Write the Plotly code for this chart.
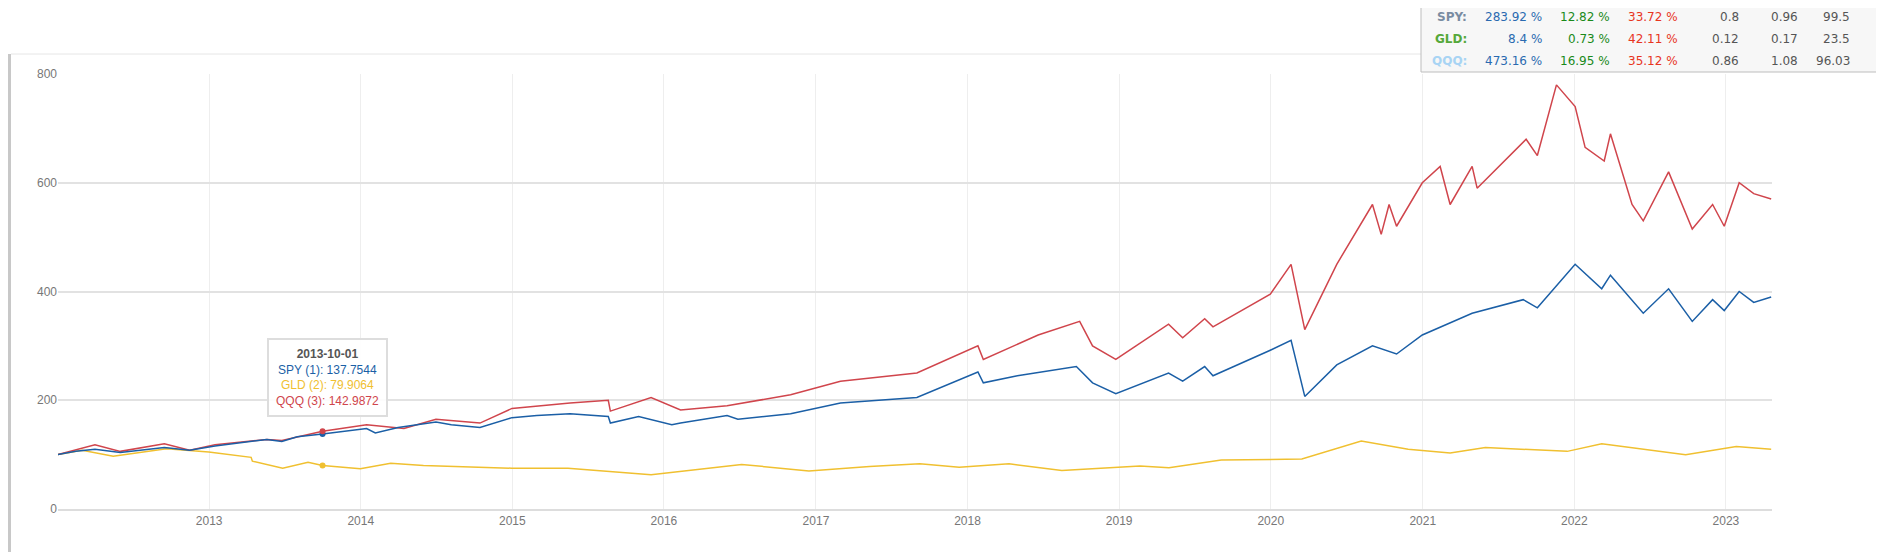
import plotly.graph_objects as go

spy_dates = ["2012-01-03","2012-02-15","2012-04-01","2012-06-01","2012-09-15","2012-11-15","2013-01-15","2013-03-15","2013-05-20","2013-06-25","2013-08-01","2013-10-01","2014-01-15","2014-02-05","2014-04-01","2014-07-01","2014-08-07","2014-10-15","2014-12-31","2015-03-01","2015-05-20","2015-08-20","2015-08-25","2015-11-01","2016-01-20","2016-02-10","2016-06-01","2016-06-27","2016-11-01","2017-03-01","2017-09-01","2018-01-26","2018-02-08","2018-05-01","2018-09-20","2018-10-29","2018-12-24","2019-04-30","2019-06-03","2019-07-26","2019-08-15","2019-12-31","2020-02-19","2020-03-23","2020-06-08","2020-09-02","2020-10-30","2020-12-31","2021-04-30","2021-08-31","2021-10-04","2022-01-03","2022-03-08","2022-03-29","2022-06-16","2022-08-16","2022-10-12","2022-11-30","2022-12-28","2023-02-02","2023-03-09","2023-04-20"]
spy_vals  = [100,106,110,104,113,108,116,122,128,124,133,137.75,148,140,150,160,155,150,168,172,175,170,158,170,155,158,172,165,175,195,205,252,232,245,262,232,212,250,235,262,245,292,310,207,265,300,285,320,360,385,370,450,405,430,360,405,345,385,365,400,380,390]

qqq_dates = ["2012-01-03","2012-04-01","2012-06-01","2012-09-15","2012-11-15","2013-01-15","2013-05-20","2013-06-25","2013-10-01","2014-01-15","2014-04-15","2014-07-01","2014-10-15","2014-12-31","2015-05-20","2015-08-20","2015-08-25","2015-12-01","2016-02-10","2016-06-01","2016-11-01","2017-03-01","2017-09-01","2018-01-26","2018-02-08","2018-06-20","2018-09-28","2018-10-29","2018-12-24","2019-04-30","2019-06-03","2019-07-26","2019-08-15","2019-12-31","2020-02-19","2020-03-23","2020-06-08","2020-09-02","2020-09-23","2020-10-12","2020-10-30","2020-12-31","2021-02-12","2021-03-08","2021-04-30","2021-05-12","2021-09-07","2021-10-04","2021-11-19","2022-01-03","2022-01-27","2022-03-14","2022-03-29","2022-05-20","2022-06-16","2022-08-16","2022-10-12","2022-11-30","2022-12-28","2023-02-02","2023-03-09","2023-04-20"]
qqq_vals  = [100,118,106,120,108,118,128,126,142.99,155,148,165,158,185,195,200,180,205,182,190,210,235,250,300,275,320,345,300,275,340,315,350,335,395,450,330,450,560,505,560,520,600,630,560,630,590,680,650,780,740,665,640,690,560,530,620,515,560,520,600,580,570]

gld_dates = ["2012-01-03","2012-03-01","2012-05-15","2012-09-20","2012-12-31","2013-04-12","2013-04-15","2013-06-27","2013-08-27","2013-10-01","2013-12-31","2014-03-14","2014-06-01","2014-12-31","2015-05-15","2015-12-01","2016-07-06","2016-12-15","2017-05-10","2017-09-08","2017-12-12","2018-04-11","2018-08-16","2019-02-20","2019-05-01","2019-09-04","2020-03-16","2020-08-06","2020-11-27","2021-03-08","2021-06-01","2021-12-15","2022-03-08","2022-09-26","2023-01-26","2023-04-20"]
gld_vals  = [100,108,97,111,105,95,88,75,86,79.91,74,84,80,75,75,63,82,70,78,83,77,83,71,79,76,90,92,125,110,103,113,106,120,100,115,110]

xtick_vals = ["2013-01-01","2014-01-01","2015-01-01","2016-01-01","2017-01-01","2018-01-01","2019-01-01","2020-01-01","2021-01-01","2022-01-01","2023-01-01"]
xtick_text = ["2013","2014","2015","2016","2017","2018","2019","2020","2021","2022","2023"]

tbl_labels = ["SPY:","GLD:","QQQ:"]
tbl_total = ["283.92 %","8.4 %","473.16 %"]
tbl_cagr = ["12.82 %","0.73 %","16.95 %"]
tbl_dd = ["33.72 %","42.11 %","35.12 %"]
tbl_c4 = ["0.8","0.12","0.86"]
tbl_c5 = ["0.96","0.17","1.08"]
tbl_c6 = ["99.5","23.5","96.03"]

OFF = 8
W, H = 1868, 544
L, T = 58 - OFF, 74 - OFF
R = W - (1772 - OFF)
B = H - (509 - OFF)
pw, ph = W - L - R, H - T - B
def px(x): return (x - OFF - L) / pw
def py(y): return 1 - (y - OFF - T) / ph

C_SPY, C_GLD, C_QQQ = "#1b5fa6", "#f0c030", "#d0454c"
fig = go.Figure()
fig.add_trace(go.Scatter(x=gld_dates, y=gld_vals, mode="lines", line=dict(color=C_GLD, width=1.5), name="GLD"))
fig.add_trace(go.Scatter(x=qqq_dates, y=qqq_vals, mode="lines", line=dict(color=C_QQQ, width=1.5), name="QQQ"))
fig.add_trace(go.Scatter(x=spy_dates, y=spy_vals, mode="lines", line=dict(color=C_SPY, width=1.5), name="SPY"))
fig.add_trace(go.Scatter(x=["2013-10-01"]*3, y=[spy_vals[11], gld_vals[9], qqq_vals[8]], mode="markers",
                         marker=dict(color=[C_SPY, C_GLD, C_QQQ], size=6)))

shapes = [
    dict(type="rect", xref="paper", yref="paper", x0=px(8), x1=px(11), y0=py(553), y1=py(54), fillcolor="#c8c8c8", line=dict(width=0), layer="above"),
    dict(type="line", xref="paper", yref="paper", x0=px(11), x1=px(1421), y0=py(54), y1=py(54), line=dict(color="#e6e6e6", width=1)),
    dict(type="rect", xref="paper", yref="paper", x0=px(1421), x1=px(1886), y0=py(72), y1=py(-2), fillcolor="#f7f7f7", line=dict(color="#bdbdbd", width=1), layer="above"),
]
ann = []
rows_y = [17, 39, 61]
lab_cols = ["#7a8ca2", "#55a83a", "#a8d4f4"]
cols = [(1469, tbl_labels, None), (1544, tbl_total, "#2a6ab0"), (1612, tbl_cagr, "#1a8a1a"),
        (1680, tbl_dd, "#e8351e"), (1741, tbl_c4, "#555"), (1800, tbl_c5, "#555"), (1852, tbl_c6, "#555")]
for ci, (xr, vals, col) in enumerate(cols):
    for ri, v in enumerate(vals):
        c = lab_cols[ri] if col is None else col
        txt = f"<b>{v}</b>" if col is None else v
        ann.append(dict(xref="paper", yref="paper", x=px(xr), y=py(rows_y[ri]), xanchor="right", yanchor="middle",
                        text=txt, showarrow=False, font=dict(family="Verdana, DejaVu Sans", size=12, color=c)))
tip = ("<b>2013-10-01</b><br>" + f"<span style='color:{C_SPY}'>SPY (1): 137.7544</span><br>"
       + f"<span style='color:{C_GLD}'>GLD (2): 79.9064</span><br>"
       + f"<span style='color:{C_QQQ}'>QQQ (3): 142.9872</span>")
ann.append(dict(xref="paper", yref="paper", x=px(327), y=py(377), xanchor="center", yanchor="middle", text=tip,
                showarrow=False, align="center", bgcolor="rgba(255,255,255,0.9)", bordercolor="#dddddd", borderwidth=2,
                borderpad=7, font=dict(family="Arial, Liberation Sans", size=12, color="#555")))

fig.update_layout(width=W, height=H, margin=dict(l=L, r=R, t=T, b=B), plot_bgcolor="white", paper_bgcolor="white",
                  showlegend=False, shapes=shapes, annotations=ann,
                  xaxis=dict(type="date", range=["2012-01-03", "2023-04-22"], tickvals=xtick_vals, ticktext=xtick_text,
                             showgrid=True, gridcolor="#eeeeee", showline=True, linecolor="#dddddd", linewidth=2,
                             tickfont=dict(family="Arial, Liberation Sans", size=12, color="#777"), ticks="", zeroline=False),
                  yaxis=dict(range=[0, 800], tickvals=[0, 200, 400, 600, 800], showgrid=True, gridcolor="#e2e2e2",
                             gridwidth=1.5, zeroline=False, tickfont=dict(family="Arial, Liberation Sans", size=12, color="#777"),
                             ticks="", ticklen=8, tickcolor="white"))
fig.write_html("out.html")
